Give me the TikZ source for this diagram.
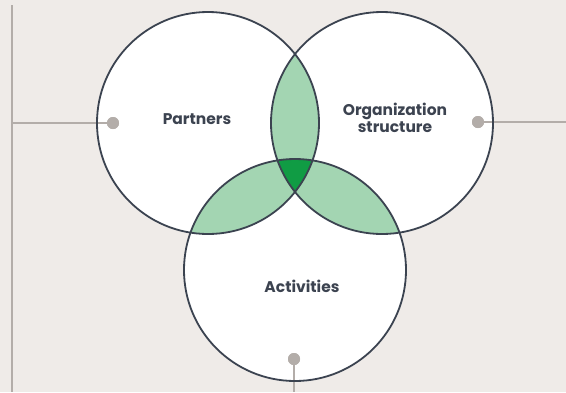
\documentclass[tikz,border=0pt]{standalone}
\usepackage{fontspec}
\setmainfont{Poppins}
\definecolor{bg}{HTML}{EFEBE8}
\definecolor{ring}{HTML}{3B4350}
\definecolor{lgreen}{HTML}{A3D5B2}
\definecolor{dgreen}{HTML}{109C44}
\definecolor{guide}{HTML}{B3ADA9}
\definecolor{txt}{HTML}{3C4350}
\begin{document}
\begin{tikzpicture}[x=1pt,y=-1pt,
  setring/.style={circle, minimum size=222pt, inner sep=0pt, fill=white},
  ringline/.style={draw=ring, line width=1.8pt},
  guideline/.style={draw=guide, line width=2.8pt},
  pin/.style={circle, fill=guide, minimum size=12pt, inner sep=0pt},
  lbl/.style={font=\bfseries\fontsize{15.5}{17}\selectfont, text=txt, align=center}]
\fill[bg] (0,0) rectangle (566,392);
\useasboundingbox (0,0) rectangle (566,392);
% sets
\node[setring] (P) at (208,123) {};
\node[setring] (O) at (382,123) {};
\node[setring] (A) at (295,270) {};
% pairwise overlaps
\begin{scope}
  \clip (P.center) circle (111pt);
  \fill[lgreen] (O.center) circle (111pt);
  \fill[lgreen] (A.center) circle (111pt);
\end{scope}
\begin{scope}
  \clip (O.center) circle (111pt);
  \fill[lgreen] (A.center) circle (111pt);
\end{scope}
% triple overlap
\begin{scope}
  \clip (P.center) circle (111pt);
  \clip (O.center) circle (111pt);
  \fill[dgreen] (A.center) circle (111pt);
\end{scope}
% guide lines
\coordinate (lt) at (12,5);
\coordinate (lb) at (12,392);
\coordinate (lm) at (12,123);
\coordinate (re) at (566,122);
\coordinate (be) at (294,392);
\node[pin] (p1) at (113,123) {};
\node[pin] (p2) at (478,122) {};
\node[pin] (p3) at (294,359) {};
\draw[guideline] (lt) -- (lb);
\draw[guideline] (lm) -- (p1.center);
\draw[guideline] (p2.center) -- (re);
\draw[guideline] (p3.center) -- (be);
% outlines
\draw[ringline] (P.center) circle (111pt);
\draw[ringline] (O.center) circle (111pt);
\draw[ringline] (A.center) circle (111pt);
% pins on top
\node[pin] at (p1) {};
\node[pin] at (p2) {};
\node[pin] at (p3) {};
% labels
\node[lbl] (tp) at (197,119) {Partners};
\node[lbl] (to) at (395,118) {Organization\\structure};
\node[lbl] (ta) at (302,286) {Activities};
\end{tikzpicture}
\end{document}
